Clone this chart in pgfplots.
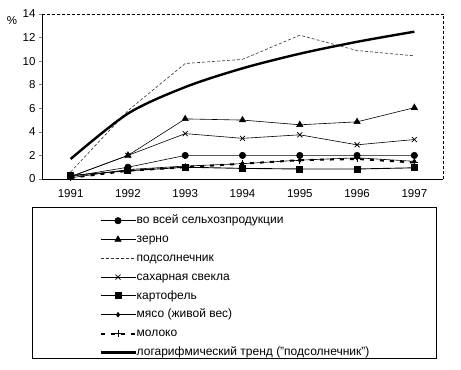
\documentclass[border=0pt]{standalone}
\usepackage{fontspec}
\setmainfont{Liberation Sans}
\usepackage{pgfplots}
\pgfplotsset{compat=1.18}
\begin{document}
\begin{tikzpicture}[x=1bp,y=1bp]
\useasboundingbox (0,0) rectangle (461,369);
\begin{axis}[
  at={(42bp,190bp)}, anchor=south west,
  scale only axis, width=401bp, height=165bp,
  xmin=0.5, xmax=7.5, ymin=0, ymax=14,
  axis x line*=bottom, axis y line*=left,
  axis line style={line width=0.6bp},
  /pgf/number format/assume math mode=true,
  every tick label/.append style={font=\fontsize{11.5bp}{13bp}\selectfont},
  xtick={1,2,3,4,5,6,7},
  xticklabels={1991,1992,1993,1994,1995,1996,1997},
  major x tick style={draw=none},
  extra x ticks={1.5,2.5,3.5,4.5,5.5,6.5,7.5},
  extra x tick labels={},
  extra x tick style={major tick length=4bp, tick style={draw=black, line width=0.5bp}},
  xticklabel style={yshift=-4bp},
  ytick={0,2,4,6,8,10,12,14},
  tick align=outside, major tick length=3bp,
  ytick style={line width=0.5bp},
  legend cell align=left,
  legend style={draw=none, fill=none, at={(0.135,-0.205)}, anchor=north west,
    font=\fontsize{12bp}{14bp}\selectfont,
    nodes={inner sep=0pt, text height=8.8bp, text depth=2.6bp},
    row sep=7.4bp,
    /tikz/every even column/.append style={column sep=4bp}},
  legend image code/.code={\draw[mark repeat=2,mark phase=2,#1] plot coordinates {(0bp,0bp) (17.5bp,0bp) (35bp,0bp)};},
]
% во всей сельхозпродукции
\addplot[black, line width=0.6bp, mark=*, mark size=3.2bp] coordinates
  {(1,0.2) (2,1.0) (3,2.0) (4,2.0) (5,2.0) (6,2.0) (7,2.0)};
\addlegendentry{во всей сельхозпродукции}
% зерно
\addplot[black, line width=0.6bp, mark=triangle*, mark size=3.6bp] coordinates
  {(1,0.2) (2,2.0) (3,5.1) (4,5.0) (5,4.6) (6,4.85) (7,6.05)};
\addlegendentry{зерно}
% подсолнечник
\addplot[black!80, line width=0.6bp, dash pattern=on 3bp off 2bp] coordinates
  {(1,0.6) (2,5.8) (3,9.8) (4,10.15) (5,12.2) (6,10.9) (7,10.45)};
\addlegendentry{подсолнечник}
% сахарная свекла
\addplot[black, line width=0.6bp, mark=x, mark size=3.5bp, mark options={line width=0.8bp}] coordinates
  {(1,0.2) (2,2.0) (3,3.85) (4,3.45) (5,3.75) (6,2.9) (7,3.35)};
\addlegendentry{сахарная свекла}
% картофель
\addplot[black, line width=0.9bp, mark=square*, mark size=3bp] coordinates
  {(1,0.3) (2,0.7) (3,1.0) (4,0.9) (5,0.85) (6,0.85) (7,0.95)};
\addlegendentry{картофель}
% мясо (живой вес)
\addplot[black, line width=0.6bp, mark=diamond*, mark size=2.3bp] coordinates
  {(1,0.1) (2,0.8) (3,1.1) (4,1.3) (5,1.6) (6,1.8) (7,1.5)};
\addlegendentry{мясо (живой вес)}
% молоко
\addplot[black, line width=2bp, dash pattern=on 4bp off 6bp, mark=+, mark size=3.5bp, mark options={solid, line width=1bp}] coordinates
  {(1,0.1) (2,0.7) (3,1.0) (4,1.3) (5,1.6) (6,1.7) (7,1.4)};
\addlegendentry{молоко}
% логарифмический тренд
\addplot[black, line width=2.4bp, smooth] coordinates
  {(1,1.7) (2,5.55) (3,7.8) (4,9.39) (5,10.63) (6,11.64) (7,12.5)};
\addlegendentry{логарифмический тренд ("подсолнечник")}
\end{axis}
\draw[line width=0.5bp, densely dashed] (42,355) -- (443,355) -- (443,190);
\node[font=\fontsize{11.5bp}{13bp}\selectfont] at (12,348) {\%};
\draw[line width=0.6bp] (32,162) rectangle (436,11);
\end{tikzpicture}
\end{document}
